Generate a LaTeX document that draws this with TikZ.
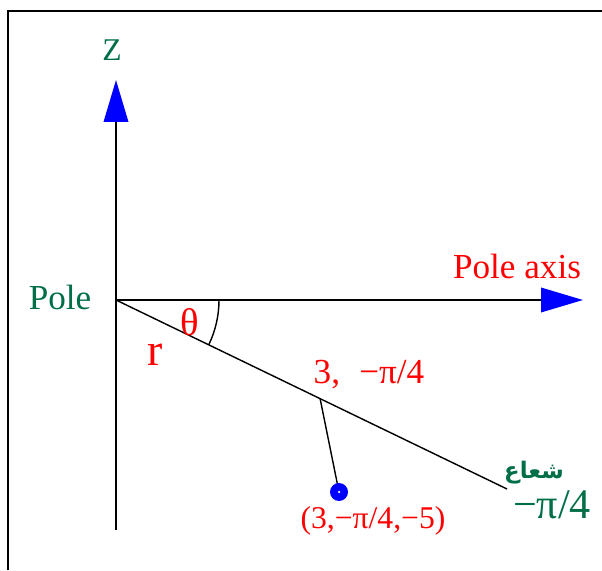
\documentclass[tikz,border=0pt]{standalone}
\usepackage{fontspec}
\setmainfont{Liberation Serif}
\newfontfamily\arabicfont[Script=Arabic]{DejaVu Sans}
\TeXXeTstate=1
\usetikzlibrary{arrows.meta,calc}
\definecolor{polegreen}{RGB}{0,110,70}
\tikzset{
  axis/.style={line width=1.1pt,-{Triangle[length=8.4mm,width=4.9mm,blue]}},
  redlabel/.style={text=red,inner sep=0pt,font=\fontsize{20}{22}\selectfont},
  greenlabel/.style={text=polegreen,inner sep=0pt,font=\fontsize{20}{22}\selectfont}
}
\begin{document}
\begin{tikzpicture}
\useasboundingbox (0,0) rectangle (12.04,11.4);
\draw[line width=1.3pt] (0.16,0) -- (0.16,11.18) -- (12.04,11.18);

\coordinate (pole) at (2.32,5.40);
\coordinate (zbot) at (2.32,0.80);
\coordinate (ztip) at (2.32,9.80);
\coordinate (axtip) at (11.66,5.40);
\coordinate (rayend) at (10.14,1.62);
\coordinate (foot) at ($(pole)!0.522!(rayend)$);

\draw[axis] (zbot) -- (ztip);
\draw[axis] (pole) -- (axtip);
\draw[line width=0.8pt] (pole) -- (rayend);
\draw[line width=0.8pt] ($(pole)+(2.06,0)$) arc[start angle=0,end angle=-25.8,radius=2.06];
\draw[line width=0.8pt] (foot) -- (6.78,1.56);
\node[circle,fill=blue,inner sep=0pt,minimum size=3.6mm] (point) at (6.78,1.56) {};
\fill[white] (point.center) circle (0.025);

\node[greenlabel,font=\fontsize{18}{20}\selectfont] (zlabel) at (2.24,10.40) {Z};
\node[greenlabel] (polelabel) at (1.20,5.46) {Pole};
\node[redlabel] (axislabel) at (10.34,6.08) {Pole axis};
\node[redlabel,font=\fontsize{22}{24}\selectfont] (theta) at (3.80,4.96) {θ};
\node[redlabel,font=\fontsize{26}{28}\selectfont] (rlabel) at (3.10,4.30) {r};
\node[redlabel] (footlabel) at (7.38,3.90) {3,\hspace{0.55em}−π/4};
\node[redlabel,font=\fontsize{18}{20}\selectfont] (pointlabel) at (7.46,0.98) {(3,−π/4,−5)};
\node[greenlabel,font=\arabicfont\bfseries\fontsize{13}{15}\selectfont] (raylabel) at (10.68,1.94) {\beginR شعاع\endR};
\node[greenlabel,font=\fontsize{24}{26}\selectfont] (anglelabel) at (11.04,1.30) {−π/4};
\end{tikzpicture}
\end{document}
